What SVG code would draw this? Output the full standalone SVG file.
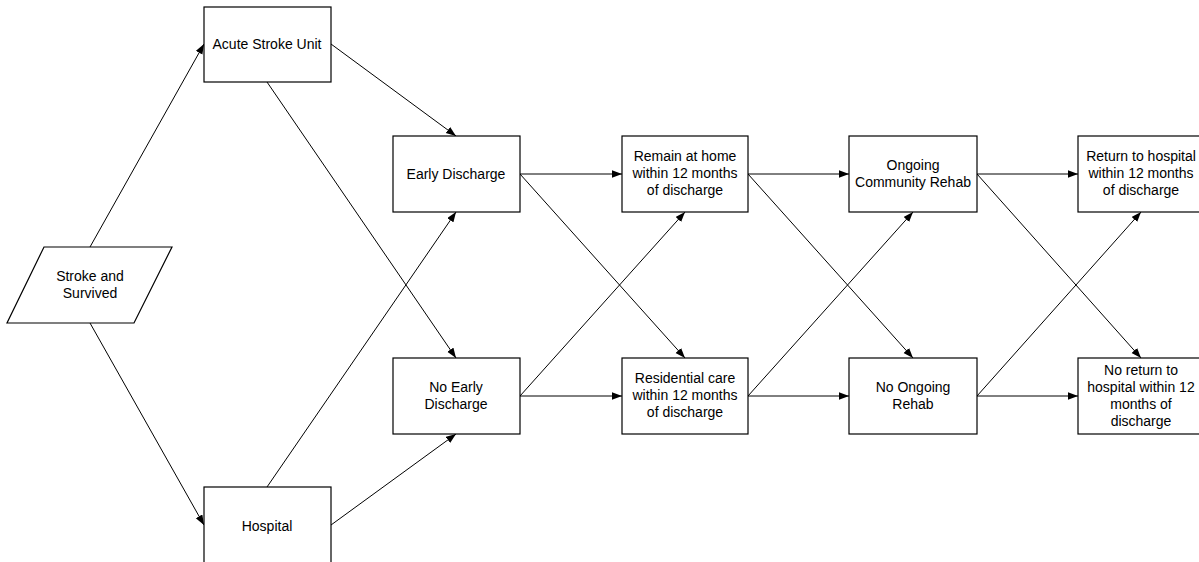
<svg xmlns="http://www.w3.org/2000/svg" width="1199" height="562" viewBox="0 0 1199 562">
<style>
.box{fill:#fff;stroke:#000;stroke-width:1.2}
.t{font-family:"Liberation Sans",Arial,sans-serif;font-size:14px;fill:#000;text-anchor:middle}
.c{fill:none;stroke:#000;stroke-width:1;marker-end:url(#ah)}
</style>
<defs>
<marker id="ah" markerUnits="userSpaceOnUse" markerWidth="11" markerHeight="8" refX="10" refY="3.75" orient="auto">
<path d="M0,0 L10,3.75 L0,7.5 z" fill="#000"/>
</marker>
</defs>
<rect width="1199" height="562" fill="#fff"/>
<g id="connectors">
<line class="c" x1="90" y1="247" x2="204" y2="44"/>
<line class="c" x1="90" y1="323" x2="204" y2="525"/>
<line class="c" x1="331" y1="44" x2="456" y2="136"/>
<line class="c" x1="267" y1="82" x2="456" y2="358"/>
<line class="c" x1="267" y1="487" x2="456" y2="212"/>
<line class="c" x1="331" y1="525" x2="456" y2="434"/>
<line class="c" x1="520" y1="174" x2="622" y2="174"/>
<line class="c" x1="520" y1="174" x2="685" y2="358"/>
<line class="c" x1="520" y1="396" x2="685" y2="212"/>
<line class="c" x1="520" y1="396" x2="622" y2="396"/>
<line class="c" x1="748" y1="174" x2="849" y2="174"/>
<line class="c" x1="748" y1="174" x2="913" y2="358"/>
<line class="c" x1="748" y1="396" x2="913" y2="212"/>
<line class="c" x1="748" y1="396" x2="849" y2="396"/>
<line class="c" x1="977" y1="174" x2="1078" y2="174"/>
<line class="c" x1="977" y1="174" x2="1141" y2="358"/>
<line class="c" x1="977" y1="396" x2="1141" y2="212"/>
<line class="c" x1="977" y1="396" x2="1078" y2="396"/>
</g>
<g id="stroke-survived">
<polygon class="box" points="44,247 172,247 134,323 7,323"/>
<text class="t" x="90" y="281">Stroke and</text>
<text class="t" x="90" y="298">Survived</text>
</g>
<g id="acute-stroke-unit">
<rect class="box" x="204" y="7" width="127" height="75"/>
<text class="t" x="267" y="49">Acute Stroke Unit</text>
</g>
<g id="hospital">
<rect class="box" x="204" y="487" width="127" height="76"/>
<text class="t" x="267" y="531">Hospital</text>
</g>
<g id="early-discharge">
<rect class="box" x="393" y="136" width="127" height="76"/>
<text class="t" x="456" y="179">Early Discharge</text>
</g>
<g id="no-early-discharge">
<rect class="box" x="393" y="358" width="127" height="76"/>
<text class="t" x="456" y="392">No Early</text>
<text class="t" x="456" y="409">Discharge</text>
</g>
<g id="remain-home">
<rect class="box" x="622" y="136" width="126" height="76"/>
<text class="t" x="685" y="161">Remain at home</text>
<text class="t" x="685" y="178">within 12 months</text>
<text class="t" x="685" y="195">of discharge</text>
</g>
<g id="residential-care">
<rect class="box" x="622" y="358" width="126" height="76"/>
<text class="t" x="685" y="383">Residential care</text>
<text class="t" x="685" y="400">within 12 months</text>
<text class="t" x="685" y="417">of discharge</text>
</g>
<g id="ongoing-rehab">
<rect class="box" x="849" y="136" width="128" height="76"/>
<text class="t" x="913" y="170">Ongoing</text>
<text class="t" x="913" y="187">Community Rehab</text>
</g>
<g id="no-ongoing-rehab">
<rect class="box" x="849" y="358" width="128" height="76"/>
<text class="t" x="913" y="392">No Ongoing</text>
<text class="t" x="913" y="409">Rehab</text>
</g>
<g id="return-hospital">
<rect class="box" x="1078" y="136" width="127" height="76"/>
<text class="t" x="1141" y="161">Return to hospital</text>
<text class="t" x="1141" y="178">within 12 months</text>
<text class="t" x="1141" y="195">of discharge</text>
</g>
<g id="no-return-hospital">
<rect class="box" x="1078" y="358" width="127" height="76"/>
<text class="t" x="1141" y="375">No return to</text>
<text class="t" x="1141" y="392">hospital within 12</text>
<text class="t" x="1141" y="409">months of</text>
<text class="t" x="1141" y="426">discharge</text>
</g>
</svg>
